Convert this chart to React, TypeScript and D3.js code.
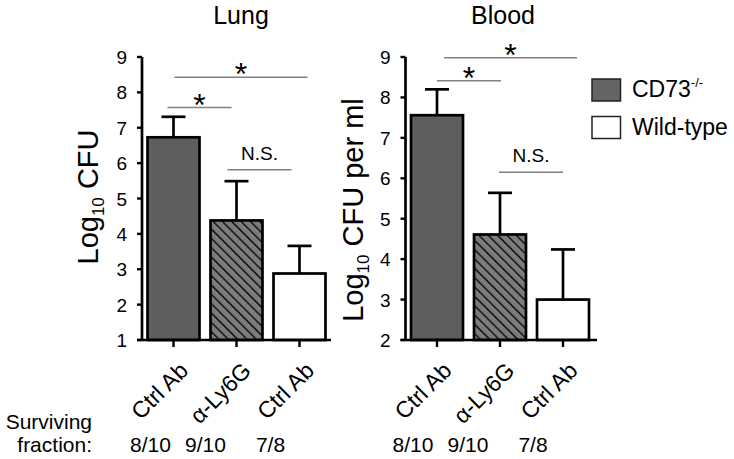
import React from "react";
import * as d3 from "d3";

// ---------- data ----------
const groupLabels = ["Ctrl Ab", "α-Ly6G", "Ctrl Ab"];
const groupFill = ["ko", "hatch", "wt"];
const survival = ["8/10", "9/10", "7/8"];

const lungMeans = [6.73, 4.38, 2.88];
const lungSem = [0.58, 1.11, 0.78];
const bloodMeans = [7.56, 4.61, 3.0];
const bloodSem = [0.64, 1.03, 1.24];

const lungTicks = [1, 2, 3, 4, 5, 6, 7, 8, 9];
const bloodTicks = [2, 3, 4, 5, 6, 7, 8, 9];

// significance brackets: [from group, to group, y (data units), label]
const lungSig: [number, number, number, string][] = [
  [0, 1, 7.57, "*"],
  [0, 2, 8.43, "*"],
  [1, 2, 5.81, "N.S."],
];
const bloodSig: [number, number, number, string][] = [
  [0, 1, 8.41, "*"],
  [0, 2, 8.98, "*"],
  [1, 2, 6.15, "N.S."],
];
const legendItems = ["CD73", "Wild-type"];

// ---------- layout / style ----------
const W = 734;
const H = 459;
const FONT = "'Liberation Sans', Arial, Helvetica, sans-serif";
const fills: Record<string, string> = {
  ko: "#5e5e5e",
  hatch: "url(#hatch)",
  wt: "#ffffff",
};
const lungSigDx: [number, number][] = [
  [-6, -5],
  [1, 8],
  [-9, -8],
];
const bloodSigDx: [number, number][] = [
  [0, 1],
  [7, 14],
  [-1, 0],
];

type PanelProps = {
  title: string;
  titleX: number;
  means: number[];
  sem: number[];
  ticks: number[];
  domain: [number, number];
  axisX: number;
  axisEnd: number;
  sig: [number, number, number, string][];
  sigDx: [number, number][];
  yLabelMain: string;
  yLabelRest: string;
  yLabelX: number;
  yLabelY: number;
  fracOffsets: number[];
};

const TOP = 57;
const BOTTOM = 340;

function Panel(p: PanelProps) {
  const idx = d3.range(groupLabels.length).map(String);
  const x = d3
    .scaleBand<string>()
    .domain(idx)
    .range([p.axisX, p.axisX + 189])
    .paddingInner(0.175)
    .paddingOuter(0.0875);
  const y = d3.scaleLinear().domain(p.domain).range([BOTTOM, TOP]);
  const bw = x.bandwidth();
  const cx = (i: number) => (x(String(i)) as number) + bw / 2;

  return (
    <g>
      <text
        x={p.titleX}
        y={24}
        textAnchor="middle"
        fontSize={25}
        fontFamily={FONT}
      >
        {p.title}
      </text>

      {/* bars */}
      {p.means.map((m, i) => (
        <g key={"b" + i}>
          <line
            x1={cx(i)}
            x2={cx(i)}
            y1={y(m)}
            y2={y(m + p.sem[i])}
            stroke="#000"
            strokeWidth={2.7}
          />
          <line
            x1={cx(i) - 12}
            x2={cx(i) + 12}
            y1={y(m + p.sem[i])}
            y2={y(m + p.sem[i])}
            stroke="#000"
            strokeWidth={2.7}
          />
          <rect
            x={x(String(i))}
            y={y(m)}
            width={bw}
            height={BOTTOM - y(m)}
            fill={fills[groupFill[i]]}
            stroke="#000"
            strokeWidth={2.7}
          />
        </g>
      ))}

      {/* y axis */}
      <line
        x1={p.axisX}
        x2={p.axisX}
        y1={TOP}
        y2={BOTTOM}
        stroke="#000"
        strokeWidth={2.7}
      />
      {p.ticks.map((t) => (
        <g key={"t" + t}>
          <line
            x1={p.axisX - 5}
            x2={p.axisX}
            y1={y(t)}
            y2={y(t)}
            stroke="#000"
            strokeWidth={2.4}
          />
          <text
            x={p.axisX - 15}
            y={y(t) + 7}
            textAnchor="end"
            fontSize={19}
            fontFamily={FONT}
          >
            {t}
          </text>
        </g>
      ))}

      {/* x axis */}
      <line
        x1={p.axisX - 5}
        x2={p.axisEnd}
        y1={BOTTOM}
        y2={BOTTOM}
        stroke="#000"
        strokeWidth={2.7}
      />
      {idx.map((k, i) => (
        <g key={"x" + i}>
          <line
            x1={cx(i)}
            x2={cx(i)}
            y1={BOTTOM}
            y2={BOTTOM + 7}
            stroke="#000"
            strokeWidth={2.4}
          />
          <text
            transform={`translate(${cx(i) + 16},${BOTTOM + 32}) rotate(-45)`}
            textAnchor="end"
            fontSize={23}
            fontFamily={FONT}
          >
            {groupLabels[i]}
          </text>
          <text
            x={cx(i) + p.fracOffsets[i]}
            y={452}
            textAnchor="middle"
            fontSize={21}
            fontFamily={FONT}
          >
            {survival[i]}
          </text>
        </g>
      ))}

      {/* significance */}
      {p.sig.map(([a, b, v, lab], i) => {
        const x1 = cx(a) + p.sigDx[i][0];
        const x2 = cx(b) + p.sigDx[i][1];
        const yy = y(v);
        const star = lab === "*";
        return (
          <g key={"s" + i}>
            <line
              x1={x1}
              x2={x2}
              y1={yy}
              y2={yy}
              stroke="#808080"
              strokeWidth={1.5}
            />
            <text
              x={(x1 + x2) / 2}
              y={star ? yy + 8 : yy - 10}
              textAnchor="middle"
              fontSize={star ? 32 : 19}
              fontFamily={FONT}
            >
              {lab}
            </text>
          </g>
        );
      })}

      {/* y label */}
      <text
        transform={`translate(${p.yLabelX},${p.yLabelY}) rotate(-90)`}
        textAnchor="middle"
        fontSize={29}
        fontFamily={FONT}
      >
        {p.yLabelMain}
        <tspan fontSize={17} dy={6}>
          10
        </tspan>
        <tspan dy={-6}>{p.yLabelRest}</tspan>
      </text>
    </g>
  );
}

export default function App() {
  return (
    <svg
      width={W}
      height={H}
      viewBox={`0 0 ${W} ${H}`}
      style={{ position: "absolute", left: 0, top: 0, background: "#fff" }}
    >
      <defs>
        <pattern
          id="hatch"
          patternUnits="userSpaceOnUse"
          width={6.6}
          height={6.6}
          patternTransform="rotate(-45)"
        >
          <rect width={6.6} height={6.6} fill="#7c7c7c" />
          <line x1={0} y1={0} x2={0} y2={6.6} stroke="#000" strokeWidth={2.6} />
        </pattern>
      </defs>
      <rect width={W} height={H} fill="#fff" />

      <Panel
        title="Lung"
        titleX={241}
        means={lungMeans}
        sem={lungSem}
        ticks={lungTicks}
        domain={[1, 9]}
        axisX={142}
        axisEnd={331}
        sig={lungSig}
        sigDx={lungSigDx}
        yLabelMain="Log"
        yLabelRest=" CFU"
        yLabelX={98}
        yLabelY={197}
        fracOffsets={[-23, -31, -29]}
      />
      <Panel
        title="Blood"
        titleX={503}
        means={bloodMeans}
        sem={bloodSem}
        ticks={bloodTicks}
        domain={[2, 9]}
        axisX={405.5}
        axisEnd={597}
        sig={bloodSig}
        sigDx={bloodSigDx}
        yLabelMain="Log"
        yLabelRest=" CFU per ml"
        yLabelX={363}
        yLabelY={210}
        fracOffsets={[-24, -32, -30]}
      />

      {/* legend */}
      {legendItems.map((l, i) => (
        <g key={"l" + i}>
          <rect
            x={592}
            y={79 + i * 37.5}
            width={28.5}
            height={22}
            fill={i === 0 ? "#646464" : "#fff"}
            stroke="#222"
            strokeWidth={1.5}
          />
          <text x={632} y={97 + i * 38} fontSize={23} fontFamily={FONT}>
            {l}
            {i === 0 ? (
              <tspan fontSize={13} dy={-10}>
                -/-
              </tspan>
            ) : null}
          </text>
        </g>
      ))}

      {/* surviving fraction label */}
      <text x={92} y={429} textAnchor="end" fontSize={21} fontFamily={FONT}>
        Surviving
      </text>
      <text x={92} y={452} textAnchor="end" fontSize={21} fontFamily={FONT}>
        fraction:
      </text>
    </svg>
  );
}
